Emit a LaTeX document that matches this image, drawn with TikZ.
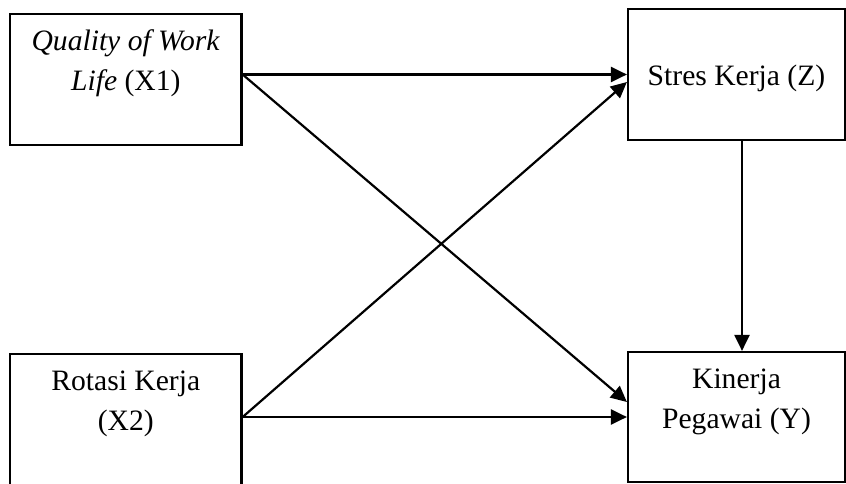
\documentclass[tikz,border=0pt]{standalone}
\usepackage{fontspec}
\setmainfont{Liberation Serif}
\usetikzlibrary{positioning,arrows.meta}

\begin{document}
\begin{tikzpicture}[
	box/.style={draw, line width=1.1pt, inner sep=0pt},
	txt/.style={align=center, inner sep=0pt, font=\fontsize{14.8}{20}\selectfont},
	arr/.style={line width=1.1pt, -{Triangle[length=8pt, width=7.5pt]}}
	]

	\useasboundingbox (0,0) rectangle (423pt,241.5pt);
	\clip (0,0) rectangle (423pt,241.5pt);

	\node[box, minimum width=115.75pt, minimum height=65.5pt] (x1) at (62.9pt,201.75pt) {};
	\node[box, minimum width=108.5pt, minimum height=65.5pt] (z) at (368.25pt,204.25pt) {};
	\node[box, minimum width=115.75pt, minimum height=67.5pt] (x2) at (62.9pt,30.75pt) {};
	\node[box, minimum width=108.5pt, minimum height=65pt] (y) at (368.25pt,33pt) {};

	\node[txt, below=8pt of x1.north] (x1t) {\textit{Quality of Work}\\\textit{Life} (X1)};
	\node[txt, below=28.4pt of z.north] (zt) {Stres Kerja (Z)};
	\node[txt, below=8.8pt of x2.north] (x2t) {Rotasi Kerja\\(X2)};
	\node[txt, below=8.7pt of y.north] (yt) {Kinerja\\Pegawai (Y)};

	\coordinate (x1out) at (x1.east |- z.west);
	\coordinate (x2out) at (x2.east |- y.west);

	\draw[arr] (x1out) -- (z.west);
	\draw[arr] (x1out) -- ([yshift=7.5pt]y.west);
	\draw[arr] (x2out) -- ([yshift=-3.75pt]z.west);
	\draw[arr] (x2out) -- (y.west);
	\draw[arr] ([xshift=2.75pt]z.south) -- ([xshift=2.75pt]y.north);

\end{tikzpicture}
\end{document}
